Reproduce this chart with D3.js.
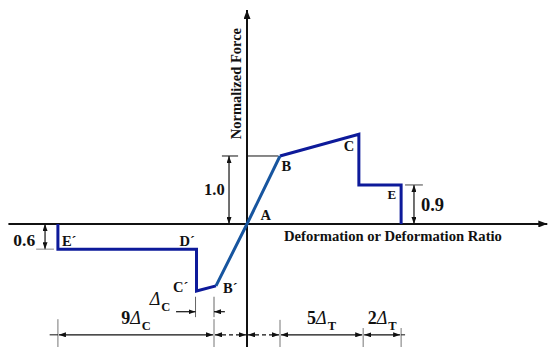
<!DOCTYPE html>
<html><head><meta charset="utf-8">
<script src="https://cdn.jsdelivr.net/npm/d3@7"></script>
<style>
body{margin:0;background:#fff}
svg{display:block}
text{font-family:"Liberation Serif","Times New Roman",serif;font-weight:bold;fill:#111}
</style></head><body>
<script>
// ---- data (deformation in units of yield deformation A->B, force normalised to point B) ----
const elasticX = [-0.94, 0, 1];            // B' -> A -> B
const elasticY = [-0.91, 0, 1];
const posX = [1, 3.39, 3.39, 4.67, 4.67];  // B -> C -> (drop) -> E -> axis
const posY = [1, 1.32, 0.574, 0.574, 0];
const negX = [-0.94, -1.53, -1.53, -5.73, -5.73]; // B' -> C' -> D' -> E' -> axis
const negY = [-0.91, -0.985, -0.37, -0.37, 0];
const pointNames = ["A", "B", "C", "E", "B\u00b4", "C\u00b4", "D\u00b4", "E\u00b4"];
const pointX = [0, 1, 3.39, 4.67, -0.94, -1.53, -1.53, -5.73];
const pointY = [0, 1, 1.32, 0.574, -0.91, -0.985, -0.37, -0.37];
const heightLabels = ["1.0", "0.9", "0.6"];
const heightValues = [1, 0.574, -0.37];
const spanStarts = [-5.73, -1.0, 0, 1, 3.52];
const spanEnds   = [-1.0, 0, 1, 3.52, 4.67];
const spanNums   = ["9", "", "", "5", "2"];
const spanSubs   = ["C", "", "", "T", "T"];
const deltaC = [-1.56, -1.0];

const W = 549, H = 347;
const x = d3.scaleLinear().domain([-7.2, 9.1]).range([9.4, 547.3]);
const y = d3.scaleLinear().domain([-1.809, 3.147]).range([347, 10]);

const svg = d3.select("body").append("svg").attr("width", W).attr("height", H);
const defs = svg.append("defs");
function marker(id, len, wid) {
  defs.append("marker").attr("id", id).attr("markerUnits", "userSpaceOnUse")
    .attr("markerWidth", len).attr("markerHeight", wid)
    .attr("refX", len).attr("refY", wid / 2).attr("orient", "auto-start-reverse")
    .append("path").attr("d", `M0,0L${len},${wid / 2}L0,${wid}Z`).attr("fill", "#111");
}
marker("arr", 7, 5);
marker("axarr", 9, 7);

// axes
svg.append("line").attr("x1", x(0)).attr("x2", x(0)).attr("y1", H).attr("y2", y(3.147) )
  .attr("stroke", "#111").attr("stroke-width", 2).attr("marker-end", "url(#axarr)");
svg.append("line").attr("x1", x(-7.23)).attr("x2", x(9.1)).attr("y1", y(0)).attr("y2", y(0))
  .attr("stroke", "#111").attr("stroke-width", 2).attr("marker-end", "url(#axarr)");

svg.append("text").attr("transform", `translate(${x(0) - 6},${y(2.065)}) rotate(-90)`)
  .attr("text-anchor", "middle").attr("font-size", 14.5).text("Normalized Force");
svg.append("text").attr("x", x(1.12)).attr("y", y(0) + 17).attr("font-size", 14.5)
  .attr("textLength", 218).attr("lengthAdjust", "spacingAndGlyphs")
  .text("Deformation or Deformation Ratio");

// curve
const line = d3.line().x(d => x(d[0])).y(d => y(d[1]));
svg.append("path").attr("d", line(negX.map((v, i) => [v, negY[i]])))
  .attr("fill", "none").attr("stroke", "#0d1a9a").attr("stroke-width", 3);
svg.append("path").attr("d", line(posX.map((v, i) => [v, posY[i]])))
  .attr("fill", "none").attr("stroke", "#0d1a9a").attr("stroke-width", 3);
svg.append("path").attr("d", line(elasticX.map((v, i) => [v, elasticY[i]])))
  .attr("fill", "none").attr("stroke", "#17559f").attr("stroke-width", 3);

// point labels
const offs = {"A": [13.5, -3.5], "B": [1.5, 15], "C": [-15, 17], "E": [-13.5, 14.5],
  "B\u00b4": [7, 7.5], "C\u00b4": [-23.5, 1.5], "D\u00b4": [-17, -3.5], "E\u00b4": [4, -3.5]};
pointNames.forEach((n, i) => {
  svg.append("text").attr("x", x(pointX[i]) + offs[n][0]).attr("y", y(pointY[i]) + offs[n][1])
    .attr("font-size", n === "E" ? 13 : 14.5).text(n);
});

// vertical dimension arrows
function vdim(xv, y0, y1) {
  svg.append("line").attr("x1", x(xv)).attr("x2", x(xv)).attr("y1", y(y0)).attr("y2", y(y1))
    .attr("stroke", "#111").attr("stroke-width", 1.2)
    .attr("marker-start", "url(#arr)").attr("marker-end", "url(#arr)");
}
function hline(x0, x1, yv, col) {
  svg.append("line").attr("x1", x(x0)).attr("x2", x(x1)).attr("y1", y(yv)).attr("y2", y(yv))
    .attr("stroke", col || "#111").attr("stroke-width", 1);
}
vdim(-0.545, 0, heightValues[0]);
hline(-0.76, -0.27, heightValues[0]); hline(0.03, 0.94, heightValues[0]);
svg.append("text").attr("x", x(-1.3)).attr("y", y(0.5) + 5.5).attr("font-size", 16.5).text(heightLabels[0]);
vdim(5.06, 0, heightValues[1]);
hline(4.79, 5.33, heightValues[1], "#444");
svg.append("text").attr("x", x(5.27)).attr("y", y(0.28) + 6.5).attr("font-size", 18.5).text(heightLabels[1]);
vdim(-6.12, 0, heightValues[2]);
hline(-6.39, -5.85, heightValues[2], "#888");
svg.append("text").attr("x", x(-7.08)).attr("y", y(-0.24) + 6).attr("font-size", 17.5).text(heightLabels[2]);

// Delta_C dimension
const dcY = -1.29;
deltaC.forEach(v => {
  svg.append("line").attr("x1", x(v)).attr("x2", x(v)).attr("y1", y(-1.07)).attr("y2", y(-1.37))
    .attr("stroke", "#666").attr("stroke-width", 1);
});
svg.append("line").attr("x1", x(-2.15)).attr("x2", x(deltaC[0])).attr("y1", y(dcY)).attr("y2", y(dcY))
  .attr("stroke", "#111").attr("stroke-width", 1.2).attr("marker-end", "url(#arr)");
svg.append("line").attr("x1", x(-0.67)).attr("x2", x(deltaC[1])).attr("y1", y(dcY)).attr("y2", y(dcY))
  .attr("stroke", "#111").attr("stroke-width", 1.2).attr("marker-end", "url(#arr)");
const dct = svg.append("text").attr("x", x(-2.95)).attr("y", y(dcY) - 7).attr("font-size", 18);
dct.append("tspan").attr("font-style", "italic").attr("font-weight", "normal").text("\u0394");
dct.append("tspan").attr("dy", 6).attr("dx", 1).attr("font-size", 12.5).text("C");

// bottom span dimensions
const bY = -1.63;
const tickTop = [-1.40, -1.40, null, -1.41, -1.53, -1.53];
const tickXs = [spanStarts[0], ...spanEnds];
tickXs.forEach((v, i) => {
  if (tickTop[i] === null) return;
  svg.append("line").attr("x1", x(v)).attr("x2", x(v)).attr("y1", y(tickTop[i])).attr("y2", H)
    .attr("stroke", "#777").attr("stroke-width", 1);
});
hline(-5.98, spanStarts[0], bY);
hline(spanEnds[4], 4.79, bY);
spanStarts.forEach((s, i) => {
  const e = spanEnds[i];
  svg.append("line").attr("x1", x(s) + 1).attr("x2", x(e) - 1).attr("y1", y(bY)).attr("y2", y(bY))
    .attr("stroke", "#111").attr("stroke-width", 1.2)
    .attr("stroke-dasharray", spanNums[i] === "" ? "4,3" : null)
    .attr("marker-start", "url(#arr)").attr("marker-end", "url(#arr)");
  if (spanNums[i] !== "") {
    const cx = (x(s) + x(e)) / 2;
    const t = svg.append("text").attr("x", cx).attr("y", y(bY) - 11).attr("text-anchor", "middle")
      .attr("font-size", 18);
    t.append("tspan").text(spanNums[i]);
    t.append("tspan").attr("font-style", "italic").attr("font-weight", "normal").text("\u0394");
    t.append("tspan").attr("dy", 6).attr("dx", 1).attr("font-size", 12.5).text(spanSubs[i]);
  }
});
</script>
</body></html>
